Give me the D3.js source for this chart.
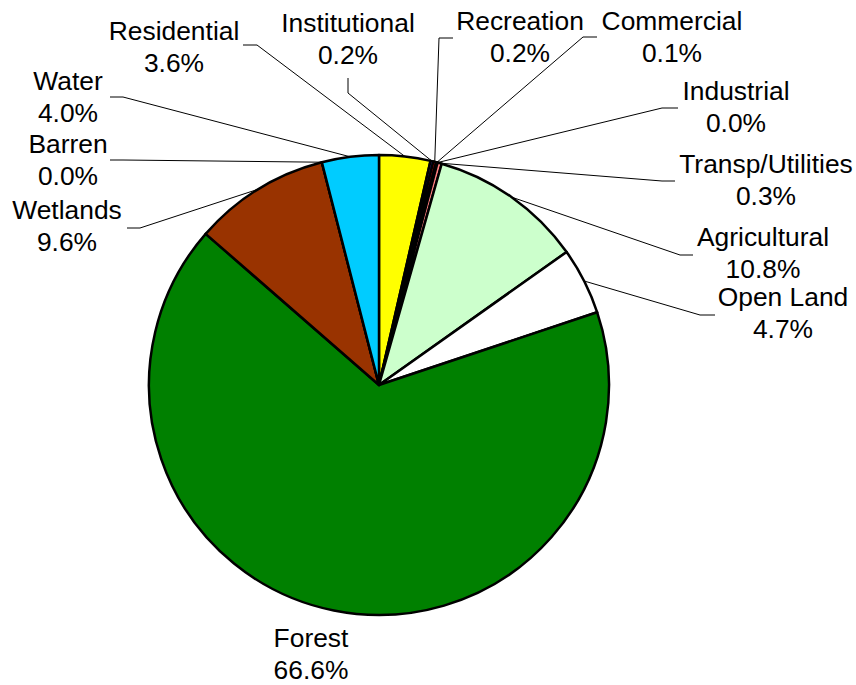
<!DOCTYPE html>
<html>
<head>
<meta charset="utf-8">
<script src="https://cdn.jsdelivr.net/npm/d3@7"></script>
<style>
  body { margin: 0; background: #fff; }
  .lbl { font-family: "Liberation Sans", Arial, sans-serif; font-size: 26.4px; fill: #000; }
</style>
</head>
<body>
<div class="chartDiv"></div>
<script>
var categories = ["Residential", "Institutional", "Recreation", "Commercial", "Industrial", "Transp/Utilities",
    "Agricultural", "Open Land", "Forest", "Wetlands", "Barren", "Water"];
var shares = [3.6, 0.2, 0.2, 0.1, 0.0, 0.3, 10.8, 4.7, 66.6, 9.6, 0.0, 4.0];
var colors = ["#FFFF00", "#3333CC", "#FF0000", "#800000", "#000080", "#FF8080",
    "#CCFFCC", "#FFFFFF", "#008000", "#993300", "#C0C0C0", "#00CCFF"];

// label placement: text centre x, first baseline y, elbow points of the leader (null = no leader)
var labelLayout = [
    { x: 174, y: 40, leg: [[257, 45], [243, 45]] },
    { x: 348, y: 32, leg: [[348, 93], [348, 78]] },
    { x: 520, y: 30, leg: [[439, 38], [453, 38]] },
    { x: 672, y: 30, leg: [[583, 37], [597, 37]] },
    { x: 736, y: 100, leg: [[662, 108], [678, 108]] },
    { x: 766, y: 173, leg: [[662, 181], [675, 181]] },
    { x: 763, y: 246, leg: [[680, 255], [693, 255]] },
    { x: 783, y: 306, leg: [[700, 315], [715, 315]] },
    { x: 311, y: 647, leg: null },
    { x: 67, y: 219, leg: [[140, 228], [127, 228]] },
    { x: 68, y: 153, leg: [[123, 160], [110, 160]] },
    { x: 68, y: 90, leg: [[123, 97], [110, 97]] }
];

var width = 856, height = 685;
var cx = 379, cy = 385, radius = 230;

var svg = d3.select(".chartDiv").append("svg")
    .attr("width", width)
    .attr("height", height);

var pie = d3.pie().sort(null).value(function(d) { return d; });
var arcs = pie(shares);

var arc = d3.arc().innerRadius(0).outerRadius(radius);
var edge = d3.arc().innerRadius(radius).outerRadius(radius);

var g = svg.append("g")
    .attr("transform", "translate(" + cx + "," + cy + ")");

g.selectAll("path.slice")
    .data(arcs)
    .enter().append("path")
    .attr("class", "slice")
    .attr("d", arc)
    .attr("fill", function(d, i) { return colors[i]; })
    .attr("stroke", "#000")
    .attr("stroke-width", 2.5)
    .attr("stroke-linejoin", "round");

// leader lines
arcs.forEach(function(d, i) {
    var lay = labelLayout[i];
    if (!lay.leg) return;
    var p = edge.centroid(d);
    var pts = [[cx + p[0], cy + p[1]]].concat(lay.leg);
    svg.append("path")
        .attr("d", d3.line()(pts))
        .attr("fill", "none")
        .attr("stroke", "#000")
        .attr("stroke-width", 1);
});

// labels
categories.forEach(function(name, i) {
    var lay = labelLayout[i];
    var t = svg.append("text")
        .attr("class", "lbl")
        .attr("text-anchor", "middle");
    t.append("tspan")
        .attr("x", lay.x)
        .attr("y", lay.y)
        .text(name);
    t.append("tspan")
        .attr("x", lay.x)
        .attr("y", lay.y + 32)
        .text(shares[i].toFixed(1) + "%");
});
</script>
</body>
</html>
